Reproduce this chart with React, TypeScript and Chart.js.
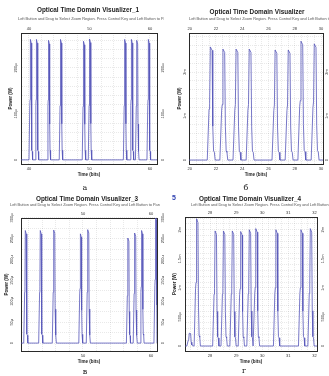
import React, { useEffect, useRef } from "react";
import { Chart, registerables } from "chart.js";

Chart.register(...registerables);

// ---------------- data ----------------
const panelTitles = [
  "Optical Time Domain Visualizer_1",
  "Optical Time Domain Visualizer",
  "Optical Time Domain Visualizer_3",
  "Optical Time Domain Visualizer_4",
];
const panelCaptions = ["а", "б", "в", "г"];
const strayMark = "5";
const subtitleText =
  "Left Button and Drag to Select Zoom Region. Press Control Key and Left Button to Pan";
const xAxisTitle = "Time (bits)";
const yAxisTitle = "Power (W)";

// shape of one optical pulse: time offset (in half-widths) and fraction of peak
const profileOffsets = [-1, -0.55, -0.4, -0.22, 0.22, 0.4, 0.6, 0.8, 1];
const profileLevels = [0, 0.45, 0.5, 1, 0.97, 0.3, 0.08, 0.07, 0];

// Panel 1 (а)
const p1XRange = [38.68, 61.16];
const p1XLabels = [40, 50, 60];
const p1XGridStep = 2;
const p1YRange = [-9e-6, 276e-6];
const p1YLabels = [0, 100e-6, 200e-6];
const p1YLabelText = ["0", "100µ", "200µ"];
const p1YGridStep = 20e-6;
const p1Centers = [40.3, 41.3, 43.3, 45.3, 49.1, 50.1, 55.9, 57.0, 57.9, 59.8];
const p1Peaks = [262e-6, 262e-6, 260e-6, 262e-6, 258e-6, 263e-6, 262e-6, 262e-6, 260e-6, 262e-6];
const p1HalfWidth = 0.3;

// Panel 2 (б)
const p2XRange = [19.95, 30.15];
const p2XLabels = [20, 22, 24, 26, 28, 30];
const p2XGridStep = 0.5;
const p2YRange = [-0.09e-3, 2.886e-3];
const p2YLabels = [0, 1e-3, 2e-3];
const p2YLabelText = ["0", "1m", "2m"];
const p2YGridStep = 0.2e-3;
const p2Centers = [21.64, 22.6, 23.6, 24.6, 26.57, 27.57, 28.54, 29.55];
const p2Peaks = [2.57e-3, 2.52e-3, 2.52e-3, 2.52e-3, 2.5e-3, 2.5e-3, 2.7e-3, 2.64e-3];
const p2HalfWidth = 0.3;

// Panel 3 (в)
const p3XRange = [40.9, 60.9];
const p3XLabels = [50, 60];
const p3XGridStep = 2;
const p3YRange = [-19e-6, 300e-6];
const p3YLabels = [0, 50e-6, 100e-6, 150e-6, 200e-6, 250e-6, 300e-6];
const p3YLabelText = ["0", "50µ", "100µ", "150µ", "200µ", "250µ", "300µ"];
const p3YGridStep = 25e-6;
const p3Centers = [41.6, 43.8, 45.8, 49.7, 50.8, 56.7, 57.7, 58.7, 60.75];
const p3Peaks = [270e-6, 270e-6, 271e-6, 262e-6, 272e-6, 252e-6, 264e-6, 270e-6, 305e-6];
const p3HalfWidth = 0.3;

// Panel 4 (г)
const p4XRange = [27.04, 32.1];
const p4XLabels = [28, 29, 30, 31, 32];
const p4XGridStep = 0.25;
const p4YRange = [-0.086e-3, 2.22e-3];
const p4YLabels = [0, 0.5e-3, 1e-3, 1.5e-3, 2e-3];
const p4YLabelText = ["0", "500µ", "1m", "1.5m", "2m"];
const p4YGridStep = 0.1e-3;
const p4Centers = [27.23, 27.51, 28.22, 28.54, 28.88, 29.2, 29.53, 29.78, 30.55, 31.51, 31.87];
const p4Peaks = [0.22e-3, 2.19e-3, 1.98e-3, 1.98e-3, 1.98e-3, 1.97e-3, 2.0e-3, 2.02e-3, 2.0e-3, 2.0e-3, 2.02e-3];
const p4HalfWidth = 0.12;

// ---------------- helpers ----------------
const FONT = '"Liberation Sans", Arial, sans-serif';
const LINE_COLOR = "rgba(84,84,184,0.88)";

function buildTrace(range: number[], centers: number[], peaks: number[], hw: number) {
  const pts: { x: number; y: number }[] = [{ x: range[0], y: 0 }];
  centers.forEach((c, i) => {
    profileOffsets.forEach((o, k) => {
      pts.push({ x: c + o * hw, y: profileLevels[k] * peaks[i] });
    });
  });
  pts.push({ x: range[1], y: 0 });
  pts.sort((a, b) => a.x - b.x);
  return pts;
}

function gridValues(range: number[], step: number) {
  const out: number[] = [];
  const k0 = Math.ceil(range[0] / step - 1e-9);
  const k1 = Math.floor(range[1] / step + 1e-9);
  for (let k = k0; k <= k1; k++) out.push(k * step);
  return out;
}

function labelFor(values: number[], texts: string[], v: number, tol: number) {
  const i = values.findIndex((l) => Math.abs(l - v) < tol);
  return i >= 0 ? texts[i] : "";
}

type PanelCfg = {
  box: { x: number; y: number; w: number; h: number };
  area: { l: number; t: number; r: number; b: number };
  title: string;
  titlePos: [number, number];
  subPos: [number, number];
  xRange: number[];
  xLabels: number[];
  xGridStep: number;
  yRange: number[];
  yLabels: number[];
  yLabelText: string[];
  yGridStep: number;
  centers: number[];
  peaks: number[];
  hw: number;
  yLabelPad: number;
  yTitlePad: number;
  xTitlePad: number;
};

const panelText = {
  id: "panelText",
  afterDraw(chart: any, _args: any, opts: any) {
    const ctx = chart.ctx;
    ctx.save();
    ctx.textBaseline = "middle";
    ctx.textAlign = "center";
    ctx.fillStyle = "#1c1c1c";
    ctx.font = `bold 6.4px ${FONT}`;
    ctx.fillText(opts.title, opts.titlePos[0], opts.titlePos[1]);
    ctx.textAlign = "left";
    ctx.fillStyle = "#555";
    ctx.font = `3.9px ${FONT}`;
    ctx.fillText(subtitleText, opts.subPos[0], opts.subPos[1]);
    ctx.restore();
  },
};

function Panel({ cfg }: { cfg: PanelCfg }) {
  const ref = useRef<HTMLCanvasElement>(null);
  useEffect(() => {
    const canvas = ref.current!;
    const { box, area } = cfg;
    const data = buildTrace(cfg.xRange, cfg.centers, cfg.peaks, cfg.hw);
    const xGrid = gridValues(cfg.xRange, cfg.xGridStep);
    const yGrid = gridValues(cfg.yRange, cfg.yGridStep);
    const xTol = cfg.xGridStep * 1e-4;
    const yTol = cfg.yGridStep * 1e-4;
    const tickFont = { family: FONT, size: 4 };
    const gridOpts = { color: "rgba(0,0,0,0.15)", lineWidth: 0.6, drawTicks: false };
    const borderOpts = { display: true, color: "#2a2a2a", width: 1, dash: [1, 1] };
    const xTicks = {
      autoSkip: false,
      maxRotation: 0,
      minRotation: 0,
      padding: 2,
      font: tickFont,
      color: "#333",
      callback: (v: any) => labelFor(cfg.xLabels, cfg.xLabels.map(String), Number(v), xTol),
    };
    const yTicks = {
      autoSkip: false,
      minRotation: 90,
      maxRotation: 90,
      crossAlign: "center",
      padding: cfg.yLabelPad,
      font: tickFont,
      color: "#333",
      callback: (v: any) => labelFor(cfg.yLabels, cfg.yLabelText, Number(v), yTol),
    };
    const chart = new Chart(canvas, {
      type: "line",
      data: {
        datasets: [
          {
            data,
            borderColor: LINE_COLOR,
            borderWidth: 0.9,
            pointRadius: 0,
            tension: 0,
            fill: false,
          },
        ],
      },
      options: {
        animation: false,
        responsive: false,
        events: [],
        layout: { padding: 0 },
        plugins: {
          legend: { display: false },
          tooltip: { enabled: false },
          title: { display: false },
          panelText: { title: cfg.title, titlePos: cfg.titlePos, subPos: cfg.subPos },
        } as any,
        scales: {
          x: {
            type: "linear",
            position: "bottom",
            min: cfg.xRange[0],
            max: cfg.xRange[1],
            afterBuildTicks: (s: any) => {
              s.ticks = xGrid.map((value) => ({ value }));
            },
            afterFit: (s: any) => {
              s.height = box.h - area.b;
            },
            ticks: xTicks,
            grid: gridOpts,
            border: borderOpts,
            title: {
              display: true,
              text: xAxisTitle,
              font: { family: FONT, size: 4.5, weight: "bold" },
              color: "#222",
              padding: { top: 0, bottom: cfg.xTitlePad },
            },
          },
          x2: {
            type: "linear",
            position: "top",
            min: cfg.xRange[0],
            max: cfg.xRange[1],
            afterBuildTicks: (s: any) => {
              s.ticks = xGrid.map((value) => ({ value }));
            },
            afterFit: (s: any) => {
              s.height = area.t;
            },
            ticks: xTicks,
            grid: { display: false, drawTicks: false },
            border: { display: true, color: "#2a2a2a", width: 1 },
          },
          y: {
            type: "linear",
            position: "left",
            min: cfg.yRange[0],
            max: cfg.yRange[1],
            afterBuildTicks: (s: any) => {
              s.ticks = yGrid.map((value) => ({ value }));
            },
            afterFit: (s: any) => {
              s.width = area.l;
            },
            ticks: yTicks,
            grid: gridOpts,
            border: borderOpts,
            title: {
              display: true,
              text: yAxisTitle,
              font: { family: FONT, size: 4.5, weight: "bold" },
              color: "#222",
              padding: { top: cfg.yTitlePad, bottom: 0 },
            },
          },
          y2: {
            type: "linear",
            position: "right",
            min: cfg.yRange[0],
            max: cfg.yRange[1],
            afterBuildTicks: (s: any) => {
              s.ticks = yGrid.map((value) => ({ value }));
            },
            afterFit: (s: any) => {
              s.width = box.w - area.r;
            },
            ticks: { ...yTicks, padding: 1 },
            grid: { display: false, drawTicks: false },
            border: { display: true, color: "#2a2a2a", width: 1 },
          },
        } as any,
      },
      plugins: [panelText as any],
    });
    return () => chart.destroy();
  }, [cfg]);
  return (
    <canvas
      ref={ref}
      width={cfg.box.w}
      height={cfg.box.h}
      style={{
        position: "absolute",
        left: cfg.box.x,
        top: cfg.box.y,
        width: cfg.box.w,
        height: cfg.box.h,
      }}
    />
  );
}

const panels: PanelCfg[] = [
  {
    box: { x: 0, y: 0, w: 164, h: 186 },
    area: { l: 21, t: 33, r: 157, b: 164 },
    title: panelTitles[0],
    titlePos: [88, 10],
    subPos: [18, 19],
    xRange: p1XRange,
    xLabels: p1XLabels,
    xGridStep: p1XGridStep,
    yRange: p1YRange,
    yLabels: p1YLabels,
    yLabelText: p1YLabelText,
    yGridStep: p1YGridStep,
    centers: p1Centers,
    peaks: p1Peaks,
    hw: p1HalfWidth,
    yLabelPad: 1,
    yTitlePad: 8,
    xTitlePad: 9,
  },
  {
    box: { x: 164, y: 0, w: 165, h: 186 },
    area: { l: 25, t: 33, r: 159, b: 164 },
    title: panelTitles[1],
    titlePos: [93, 12],
    subPos: [25, 19],
    xRange: p2XRange,
    xLabels: p2XLabels,
    xGridStep: p2XGridStep,
    yRange: p2YRange,
    yLabels: p2YLabels,
    yLabelText: p2YLabelText,
    yGridStep: p2YGridStep,
    centers: p2Centers,
    peaks: p2Peaks,
    hw: p2HalfWidth,
    yLabelPad: 1.5,
    yTitlePad: 13,
    xTitlePad: 9,
  },
  {
    box: { x: 0, y: 186, w: 164, h: 190 },
    area: { l: 21, t: 32, r: 157, b: 165 },
    title: panelTitles[2],
    titlePos: [87, 13],
    subPos: [10, 19],
    xRange: p3XRange,
    xLabels: p3XLabels,
    xGridStep: p3XGridStep,
    yRange: p3YRange,
    yLabels: p3YLabels,
    yLabelText: p3YLabelText,
    yGridStep: p3YGridStep,
    centers: p3Centers,
    peaks: p3Peaks,
    hw: p3HalfWidth,
    yLabelPad: 5,
    yTitlePad: 4,
    xTitlePad: 12,
  },
  {
    box: { x: 164, y: 186, w: 165, h: 190 },
    area: { l: 21, t: 31, r: 153, b: 165 },
    title: panelTitles[3],
    titlePos: [86, 13],
    subPos: [27, 19],
    xRange: p4XRange,
    xLabels: p4XLabels,
    xGridStep: p4XGridStep,
    yRange: p4YRange,
    yLabels: p4YLabels,
    yLabelText: p4YLabelText,
    yGridStep: p4YGridStep,
    centers: p4Centers,
    peaks: p4Peaks,
    hw: p4HalfWidth,
    yLabelPad: 1,
    yTitlePad: 8,
    xTitlePad: 12,
  },
];

const captionPos: [number, number][] = [
  [85, 188],
  [246, 188],
  [85, 372],
  [244, 371],
];

export default function App() {
  return (
    <div
      style={{
        position: "fixed",
        left: 0,
        top: 0,
        width: 329,
        height: 376,
        background: "#fff",
        overflow: "hidden",
      }}
    >
      {panels.map((p, i) => (
        <Panel key={i} cfg={p} />
      ))}
      {panelCaptions.map((c, i) => (
        <div
          key={c}
          style={{
            position: "absolute",
            left: captionPos[i][0] - 5,
            top: captionPos[i][1] - 5,
            width: 10,
            textAlign: "center",
            font: '8px "DejaVu Serif", serif',
            lineHeight: "10px",
            color: "#222",
          }}
        >
          {c}
        </div>
      ))}
      <div
        style={{
          position: "absolute",
          left: 172,
          top: 193,
          font: `bold 7px ${FONT}`,
          lineHeight: "10px",
          color: "#2d3fb0",
        }}
      >
        {strayMark}
      </div>
    </div>
  );
}
